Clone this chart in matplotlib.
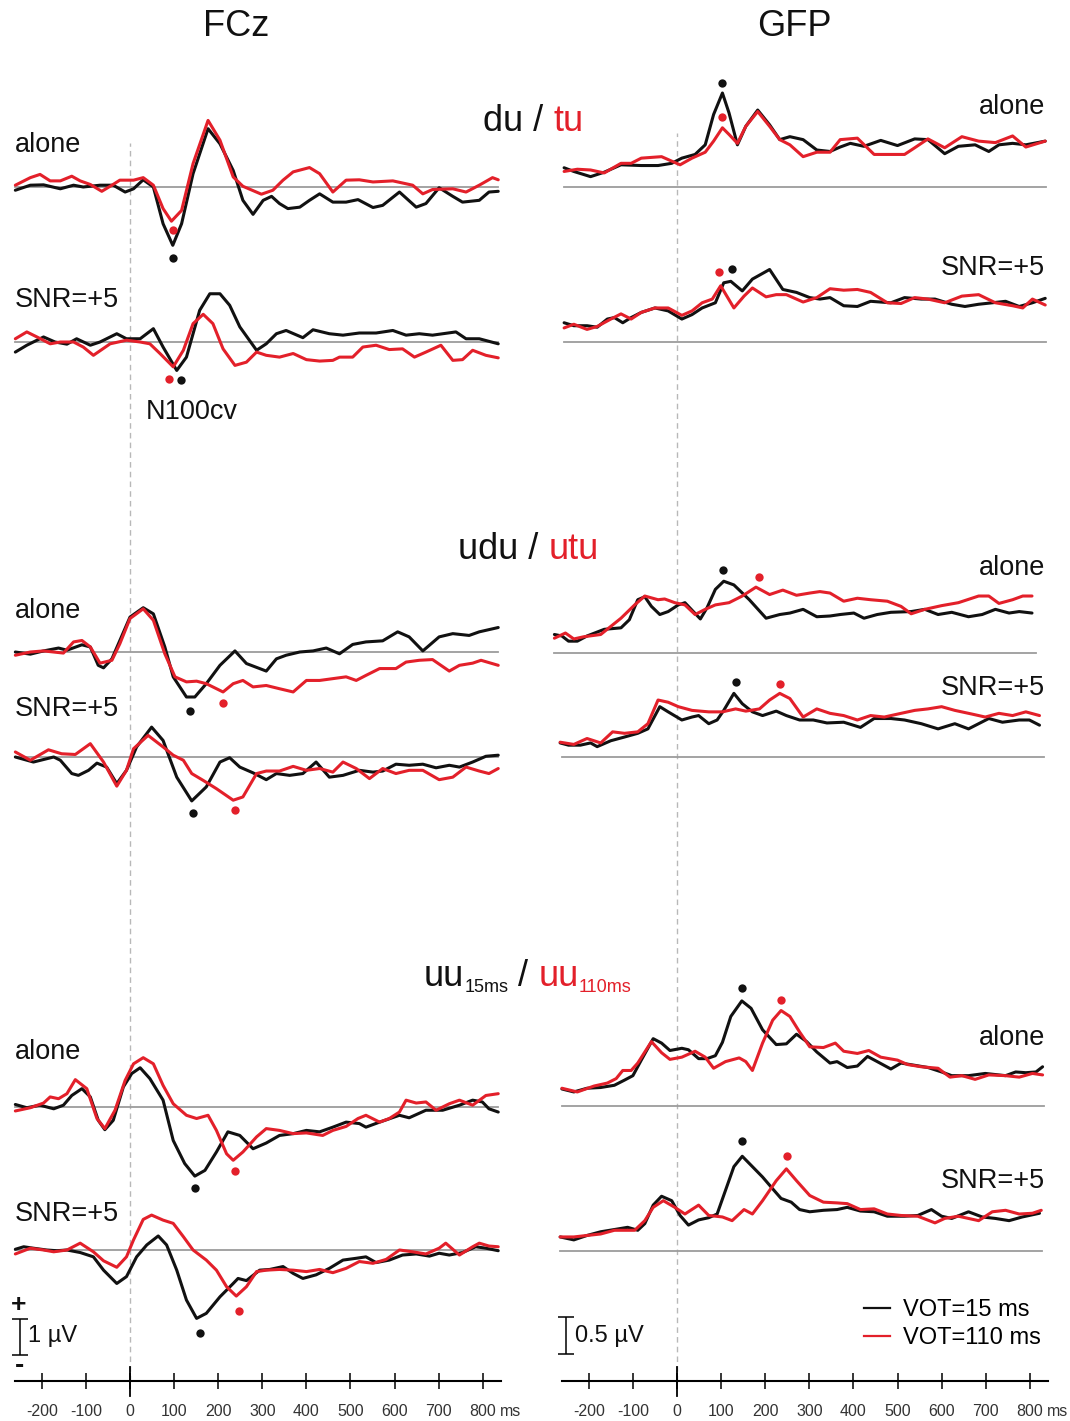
"""
FCz ERP and GFP waveforms for du/tu, udu/utu and uu15/uu110 (alone vs SNR=+5).
Values read off the published figure; black = VOT 15 ms, red = VOT 110 ms.
"""
import matplotlib.pyplot as plt
from matplotlib.lines import Line2D

plt.rcParams["font.family"] = ["Liberation Sans", "DejaVu Sans"]

# ---------------- FCz (µV), du / tu ----------------
FCZ_DU_ALONE_15_T = [-260, -226, -196, -158, -128, -106, -68, -38, -11, 8, 30, 53, 75, 97, 117, 143, 177, 204, 234, 256,
                     279, 302, 321, 339, 358, 385, 407, 430, 460, 490, 517, 551, 573, 611, 649, 671, 701, 732, 754, 792,
                     814, 835]
FCZ_DU_ALONE_15_V = [-0.09, 0.05, 0.06, -0.05, 0.05, 0.0, 0.05, 0.05, -0.14, -0.05, 0.20, 0.0, -1.02, -1.62, -1.02, 0.37,
                     1.62, 1.20, 0.46, -0.37, -0.76, -0.37, -0.26, -0.46, -0.60, -0.56, -0.37, -0.19, -0.42, -0.42,
                     -0.35, -0.57, -0.51, -0.14, -0.56, -0.46, -0.02, -0.26, -0.42, -0.37, -0.14, -0.12]
FCZ_DU_ALONE_110_T = [-260, -226, -204, -181, -158, -132, -113, -90, -64, -41, -23, 8, 30, 53, 75, 94, 117, 143, 177, 204,
                      234, 256, 298, 324, 347, 370, 407, 430, 460, 490, 520, 551, 596, 641, 664, 686, 732, 762, 792, 822,
                      835]
FCZ_DU_ALONE_110_V = [0.05, 0.26, 0.35, 0.17, 0.17, 0.30, 0.17, 0.07, -0.12, 0.05, 0.19, 0.19, 0.26, 0.05, -0.60, -0.95,
                      -0.65, 0.65, 1.85, 1.30, 0.28, 0.02, -0.20, -0.09, 0.19, 0.42, 0.54, 0.37, -0.14, 0.19, 0.20, 0.14,
                      0.17, 0.05, -0.19, -0.07, -0.05, -0.14, 0.05, 0.26, 0.20]
FCZ_DU_ALONE_PEAKS = [(97, -1.96), (97, -1.19)]

FCZ_DU_SNR_15_T = [-260, -234, -196, -170, -143, -121, -90, -68, -30, -8, 23, 53, 75, 106, 128, 158, 181, 204, 226, 249,
                   287, 309, 332, 354, 392, 415, 452, 483, 520, 558, 596, 626, 656, 686, 739, 762, 792, 835]
FCZ_DU_SNR_15_V = [-0.28, -0.09, 0.14, 0.0, -0.06, 0.09, -0.09, 0.0, 0.23, 0.09, 0.09, 0.37, -0.14, -0.79, -0.42, 0.88,
                   1.34, 1.34, 1.02, 0.42, -0.23, -0.05, 0.23, 0.32, 0.12, 0.34, 0.23, 0.19, 0.25, 0.25, 0.32, 0.19, 0.23,
                   0.19, 0.28, 0.09, 0.09, -0.05]
FCZ_DU_SNR_110_T = [-260, -234, -211, -181, -158, -128, -106, -83, -45, -8, 23, 45, 68, 98, 121, 143, 166, 188, 211, 238,
                    264, 287, 309, 339, 370, 400, 430, 460, 475, 505, 528, 558, 588, 618, 645, 671, 705, 732, 754, 777,
                    807, 835]
FCZ_DU_SNR_110_V = [0.09, 0.28, 0.14, -0.05, 0.0, 0.0, -0.14, -0.37, -0.05, 0.05, 0.0, -0.05, -0.32, -0.69, -0.23, 0.51,
                    0.77, 0.51, -0.19, -0.65, -0.56, -0.28, -0.37, -0.42, -0.32, -0.49, -0.53, -0.51, -0.42, -0.42,
                    -0.14, -0.09, -0.21, -0.19, -0.42, -0.28, -0.09, -0.51, -0.49, -0.23, -0.37, -0.44]
FCZ_DU_SNR_PEAKS = [(115, -1.06), (89, -1.03)]

# ---------------- FCz, udu / utu ----------------
FCZ_UDU_ALONE_15_T = [-260, -226, -196, -162, -143, -109, -90, -72, -60, -41, -23, 0, 30, 53, 79, 98, 128, 147, 173, 204,
                      238, 264, 309, 332, 354, 385, 415, 445, 475, 505, 535, 573, 607, 633, 664, 701, 732, 769, 792, 835]
FCZ_UDU_ALONE_15_V = [0.0, -0.06, 0.03, 0.11, 0.05, 0.20, 0.14, -0.37, -0.44, -0.19, 0.32, 0.97, 1.23, 1.06, 0.14, -0.69,
                      -1.25, -1.25, -0.88, -0.37, 0.03, -0.32, -0.53, -0.19, -0.09, 0.0, 0.03, 0.11, -0.05, 0.21, 0.28,
                      0.31, 0.56, 0.42, 0.03, 0.42, 0.51, 0.46, 0.56, 0.68]
FCZ_UDU_ALONE_110_T = [-260, -226, -196, -151, -128, -109, -90, -68, -41, -23, 0, 30, 53, 79, 102, 128, 151, 173, 211,
                       234, 256, 279, 309, 339, 370, 400, 430, 460, 490, 513, 535, 566, 603, 626, 656, 686, 724, 747, 777,
                       796, 835]
FCZ_UDU_ALONE_110_V = [-0.09, 0.0, 0.03, -0.03, 0.28, 0.32, 0.14, -0.31, -0.23, 0.23, 0.93, 1.20, 0.88, -0.05, -0.69,
                       -0.83, -0.81, -0.88, -1.11, -0.88, -0.79, -0.97, -0.93, -1.02, -1.11, -0.79, -0.79, -0.74, -0.69,
                       -0.79, -0.65, -0.46, -0.46, -0.28, -0.23, -0.21, -0.53, -0.37, -0.31, -0.23, -0.37]
FCZ_UDU_ALONE_PEAKS = [(136, -1.65), (211, -1.42)]

FCZ_UDU_SNR_15_T = [-260, -219, -173, -158, -132, -117, -94, -75, -53, -30, -8, 15, 49, 75, 106, 140, 173, 204, 226, 249,
                    279, 309, 332, 362, 392, 422, 452, 483, 520, 551, 573, 603, 633, 664, 694, 724, 747, 777, 807, 835]
FCZ_UDU_SNR_15_V = [0.0, -0.14, 0.0, -0.09, -0.46, -0.51, -0.37, -0.17, -0.28, -0.74, -0.37, 0.28, 0.83, 0.46, -0.56,
                    -1.22, -0.83, -0.14, -0.02, -0.28, -0.44, -0.63, -0.46, -0.51, -0.46, -0.14, -0.56, -0.51, -0.37,
                    -0.42, -0.39, -0.20, -0.23, -0.20, -0.30, -0.23, -0.28, -0.14, 0.02, 0.05]
FCZ_UDU_SNR_110_T = [-260, -226, -185, -155, -124, -90, -60, -30, -8, 8, 41, 75, 98, 121, 140, 166, 196, 234, 256, 287,
                     309, 339, 370, 400, 430, 460, 483, 513, 543, 573, 603, 633, 664, 701, 732, 762, 792, 814, 835]
FCZ_UDU_SNR_110_V = [0.14, -0.09, 0.20, 0.09, 0.07, 0.37, -0.14, -0.81, -0.37, 0.23, 0.60, 0.28, 0.05, -0.09, -0.46,
                     -0.65, -0.88, -1.20, -1.11, -0.46, -0.39, -0.39, -0.26, -0.37, -0.32, -0.42, -0.14, -0.32, -0.60,
                     -0.32, -0.46, -0.37, -0.37, -0.63, -0.56, -0.28, -0.39, -0.46, -0.32]
FCZ_UDU_SNR_PEAKS = [(143, -1.56), (239, -1.48)]

# ---------------- FCz, uu15 / uu110 ----------------
FCZ_UU_ALONE_15_T = [-260, -234, -204, -173, -151, -132, -109, -90, -72, -57, -38, -15, 4, 23, 45, 75, 98, 124, 147, 170,
                     196, 222, 249, 279, 309, 339, 370, 400, 430, 460, 490, 520, 535, 566, 611, 633, 671, 709, 747, 777,
                     799, 814, 835]
FCZ_UU_ALONE_15_V = [0.07, -0.02, 0.05, -0.05, 0.05, 0.32, 0.51, 0.28, -0.37, -0.63, -0.37, 0.56, 0.93, 1.09, 0.79, 0.19,
                     -0.93, -1.57, -1.92, -1.76, -1.25, -0.69, -0.79, -1.16, -1.00, -0.79, -0.74, -0.65, -0.69, -0.56,
                     -0.42, -0.46, -0.56, -0.42, -0.23, -0.30, -0.09, -0.09, 0.05, 0.19, 0.14, -0.05, -0.14]
FCZ_UU_ALONE_110_T = [-260, -226, -196, -181, -162, -143, -124, -98, -75, -57, -34, -11, 8, 30, 53, 75, 98, 128, 151,
                      177, 196, 219, 234, 256, 287, 309, 339, 370, 400, 437, 460, 490, 517, 535, 566, 588, 611, 626, 649,
                      671, 694, 724, 747, 777, 807, 835]
FCZ_UU_ALONE_110_V = [-0.11, -0.02, 0.11, 0.28, 0.23, 0.37, 0.76, 0.51, -0.32, -0.60, -0.09, 0.74, 1.20, 1.37, 1.20, 0.60,
                      0.09, -0.23, -0.32, -0.23, -0.65, -1.30, -1.48, -1.25, -0.83, -0.60, -0.65, -0.74, -0.72, -0.79,
                      -0.65, -0.54, -0.32, -0.23, -0.42, -0.32, -0.14, 0.19, 0.11, 0.14, -0.09, 0.09, 0.19, 0.05, 0.32,
                      0.37]
FCZ_UU_ALONE_PEAKS = [(147, -2.24), (238, -1.78)]

FCZ_UU_SNR_15_T = [-260, -241, -219, -189, -166, -143, -113, -83, -60, -30, -8, 15, 38, 64, 83, 106, 128, 151, 173, 204,
                   234, 245, 264, 294, 317, 347, 370, 392, 422, 452, 483, 513, 535, 558, 588, 618, 649, 679, 701, 724,
                   754, 784, 807, 835]
FCZ_UU_SNR_15_V = [0.02, 0.09, 0.05, 0.0, -0.02, 0.0, -0.07, -0.19, -0.56, -0.93, -0.74, -0.19, 0.14, 0.39, 0.14, -0.56,
                   -1.39, -1.90, -1.76, -1.30, -0.93, -0.79, -0.85, -0.56, -0.54, -0.46, -0.65, -0.79, -0.69, -0.51,
                   -0.28, -0.23, -0.19, -0.35, -0.28, -0.14, -0.11, -0.17, -0.09, -0.14, -0.07, 0.09, 0.05, -0.02]
FCZ_UU_SNR_110_T = [-260, -226, -196, -173, -143, -113, -83, -60, -30, -8, 8, 30, 49, 75, 98, 121, 143, 173, 196, 219,
                    241, 264, 287, 309, 339, 370, 400, 430, 460, 490, 520, 551, 581, 611, 641, 671, 701, 716, 747, 777,
                    792, 814, 835]
FCZ_UU_SNR_110_V = [-0.11, 0.05, 0.0, -0.05, 0.0, 0.19, -0.05, -0.30, -0.48, -0.19, 0.28, 0.85, 0.97, 0.83, 0.74, 0.37,
                    0.0, -0.28, -0.56, -1.02, -1.28, -1.02, -0.60, -0.56, -0.54, -0.56, -0.60, -0.54, -0.63, -0.51,
                    -0.32, -0.37, -0.26, 0.0, -0.05, -0.11, 0.05, 0.19, -0.14, 0.09, 0.19, 0.11, 0.09]
FCZ_UU_SNR_PEAKS = [(158, -2.30), (247, -1.69)]

# ---------------- GFP (µV), du / tu ----------------
GFP_DU_ALONE_15_T = [-256, -234, -196, -165, -127, -81, -43, -12, 11, 41, 64, 83, 103, 118, 137, 156, 183, 210, 233, 256,
                     286, 317, 347, 370, 393, 424, 462, 500, 539, 569, 607, 638, 676, 707, 730, 761, 791, 835]
GFP_DU_ALONE_15_V = [0.26, 0.21, 0.14, 0.20, 0.30, 0.29, 0.29, 0.32, 0.39, 0.44, 0.57, 0.98, 1.27, 1.00, 0.57, 0.82,
                     1.04, 0.84, 0.64, 0.68, 0.64, 0.50, 0.48, 0.54, 0.59, 0.55, 0.63, 0.56, 0.65, 0.64, 0.45, 0.55, 0.57,
                     0.48, 0.57, 0.59, 0.57, 0.62]
GFP_DU_ALONE_110_T = [-256, -226, -196, -165, -127, -104, -81, -35, -16, 7, 34, 64, 83, 103, 118, 137, 156, 183, 210, 233,
                      256, 286, 317, 347, 370, 409, 447, 477, 516, 539, 569, 607, 646, 684, 722, 761, 791, 835]
GFP_DU_ALONE_110_V = [0.21, 0.24, 0.23, 0.19, 0.32, 0.32, 0.39, 0.41, 0.36, 0.30, 0.39, 0.47, 0.62, 0.80, 0.71, 0.59,
                      0.82, 1.02, 0.82, 0.64, 0.57, 0.41, 0.47, 0.47, 0.64, 0.66, 0.44, 0.44, 0.44, 0.53, 0.65, 0.53,
                      0.68, 0.62, 0.60, 0.69, 0.54, 0.62]
GFP_DU_ALONE_PEAKS = [(103, 1.41), (103, 0.95)]

GFP_DU_SNR_15_T = [-256, -234, -204, -181, -158, -142, -123, -104, -81, -50, -20, 11, 34, 57, 87, 106, 122, 148, 171, 210,
                   240, 271, 301, 324, 347, 378, 409, 439, 485, 516, 554, 585, 623, 653, 684, 715, 745, 776, 806, 835]
GFP_DU_SNR_15_V = [0.26, 0.22, 0.22, 0.20, 0.31, 0.33, 0.26, 0.33, 0.40, 0.46, 0.42, 0.31, 0.37, 0.46, 0.53, 0.80, 0.82,
                   0.69, 0.85, 0.98, 0.71, 0.67, 0.60, 0.58, 0.60, 0.49, 0.48, 0.55, 0.53, 0.60, 0.58, 0.58, 0.51, 0.48,
                   0.51, 0.53, 0.55, 0.48, 0.53, 0.59]
GFP_DU_SNR_110_T = [-256, -234, -204, -181, -150, -127, -104, -81, -50, -20, 11, 34, 57, 80, 99, 129, 152, 171, 202, 225,
                    248, 286, 317, 347, 378, 409, 439, 477, 508, 539, 569, 607, 646, 684, 722, 761, 784, 806, 835]
GFP_DU_SNR_110_V = [0.19, 0.24, 0.17, 0.21, 0.31, 0.38, 0.31, 0.40, 0.46, 0.46, 0.36, 0.42, 0.53, 0.58, 0.76, 0.46, 0.62,
                    0.73, 0.61, 0.64, 0.64, 0.54, 0.60, 0.72, 0.70, 0.71, 0.67, 0.53, 0.52, 0.60, 0.58, 0.53, 0.62, 0.64,
                    0.53, 0.49, 0.46, 0.58, 0.50]
GFP_DU_SNR_PEAKS = [(125, 0.98), (95, 0.95)]

# ---------------- GFP, udu / utu ----------------
GFP_UDU_ALONE_15_T = [-278, -261, -246, -226, -204, -165, -127, -108, -89, -73, -58, -39, -20, 3, 18, 37, 53, 68, 87, 106,
                      129, 164, 202, 233, 256, 286, 317, 347, 370, 401, 424, 454, 485, 531, 562, 592, 623, 661, 692, 722,
                      753, 776, 805]
GFP_UDU_ALONE_15_V = [0.25, 0.23, 0.16, 0.16, 0.23, 0.32, 0.34, 0.45, 0.72, 0.76, 0.63, 0.52, 0.56, 0.65, 0.68, 0.56,
                      0.46, 0.61, 0.86, 0.97, 0.92, 0.72, 0.47, 0.52, 0.54, 0.59, 0.49, 0.50, 0.52, 0.54, 0.47, 0.52,
                      0.55, 0.56, 0.59, 0.52, 0.55, 0.49, 0.52, 0.59, 0.54, 0.56, 0.54]
GFP_UDU_ALONE_110_T = [-278, -253, -234, -211, -173, -127, -96, -73, -43, -28, -5, 18, 41, 64, 87, 118, 148, 179, 210,
                       240, 271, 301, 324, 347, 378, 409, 439, 477, 508, 531, 562, 600, 638, 684, 707, 730, 761, 784, 805]
GFP_UDU_ALONE_110_V = [0.20, 0.27, 0.19, 0.22, 0.25, 0.47, 0.65, 0.77, 0.72, 0.73, 0.68, 0.65, 0.52, 0.59, 0.65, 0.68,
                       0.77, 0.89, 0.79, 0.85, 0.78, 0.81, 0.83, 0.81, 0.70, 0.74, 0.72, 0.70, 0.63, 0.53, 0.59, 0.64,
                       0.68, 0.77, 0.77, 0.67, 0.72, 0.77, 0.77]
GFP_UDU_ALONE_PEAKS = [(105, 1.12), (185, 1.03)]

GFP_UDU_SNR_15_T = [-265, -246, -219, -196, -181, -150, -119, -89, -66, -39, -20, 11, 34, 49, 72, 91, 106, 129, 148, 171,
                    194, 225, 248, 278, 309, 340, 378, 416, 447, 485, 516, 554, 592, 630, 661, 684, 707, 738, 776, 799,
                    822]
GFP_UDU_SNR_15_V = [0.19, 0.16, 0.16, 0.19, 0.14, 0.22, 0.27, 0.32, 0.38, 0.68, 0.61, 0.50, 0.54, 0.56, 0.45, 0.50, 0.63,
                    0.86, 0.72, 0.61, 0.56, 0.62, 0.56, 0.50, 0.50, 0.46, 0.47, 0.40, 0.52, 0.52, 0.50, 0.45, 0.38, 0.45,
                    0.38, 0.45, 0.52, 0.47, 0.50, 0.50, 0.43]
GFP_UDU_SNR_110_T = [-265, -234, -204, -173, -146, -119, -89, -66, -43, -20, 3, 34, 72, 103, 133, 156, 187, 210, 233, 256,
                     286, 317, 347, 378, 409, 439, 470, 508, 539, 569, 600, 630, 669, 699, 730, 761, 791, 822]
GFP_UDU_SNR_110_V = [0.20, 0.17, 0.25, 0.19, 0.34, 0.32, 0.34, 0.45, 0.77, 0.74, 0.68, 0.63, 0.61, 0.61, 0.65, 0.62,
                     0.65, 0.77, 0.86, 0.79, 0.54, 0.65, 0.59, 0.56, 0.50, 0.56, 0.54, 0.59, 0.63, 0.65, 0.68, 0.63, 0.58,
                     0.54, 0.59, 0.56, 0.61, 0.56]
GFP_UDU_SNR_PEAKS = [(133, 1.02), (234, 0.98)]

# ---------------- GFP, uu15 / uu110 ----------------
GFP_UU_ALONE_15_T = [-261, -234, -204, -173, -142, -119, -100, -81, -54, -35, -16, 11, 26, 49, 68, 87, 103, 122, 147, 168,
                     194, 225, 248, 271, 294, 317, 347, 363, 386, 409, 432, 454, 485, 508, 539, 569, 600, 623, 661, 699,
                     745, 768, 791, 814, 829]
GFP_UU_ALONE_15_V = [0.23, 0.19, 0.24, 0.25, 0.28, 0.35, 0.41, 0.62, 0.91, 0.85, 0.75, 0.78, 0.76, 0.64, 0.64, 0.68,
                     0.86, 1.21, 1.42, 1.32, 1.03, 0.83, 0.84, 0.97, 0.87, 0.73, 0.58, 0.60, 0.52, 0.54, 0.67, 0.60, 0.50,
                     0.58, 0.55, 0.52, 0.46, 0.41, 0.41, 0.44, 0.41, 0.46, 0.45, 0.46, 0.53]
GFP_UU_ALONE_110_T = [-261, -226, -188, -158, -138, -123, -104, -89, -58, -35, -16, 11, 41, 64, 83, 110, 141, 156, 171,
                      194, 217, 236, 256, 278, 301, 332, 359, 378, 409, 435, 462, 500, 523, 554, 592, 619, 646, 676, 707,
                      745, 776, 806, 829]
GFP_UU_ALONE_110_V = [0.24, 0.19, 0.27, 0.31, 0.37, 0.48, 0.48, 0.58, 0.87, 0.72, 0.63, 0.66, 0.74, 0.66, 0.51, 0.60,
                      0.65, 0.60, 0.48, 0.85, 1.16, 1.29, 1.21, 1.00, 0.80, 0.79, 0.85, 0.74, 0.71, 0.75, 0.66, 0.62,
                      0.56, 0.53, 0.51, 0.39, 0.41, 0.36, 0.42, 0.41, 0.39, 0.44, 0.42]
GFP_UU_ALONE_PEAKS = [(147, 1.60), (236, 1.43)]

GFP_UU_SNR_15_T = [-265, -234, -204, -173, -142, -112, -89, -73, -54, -35, -12, 7, 26, 49, 72, 91, 110, 129, 148, 171,
                   194, 217, 236, 259, 278, 301, 332, 363, 386, 416, 447, 477, 516, 546, 577, 600, 623, 661, 692, 722,
                   753, 783, 822]
GFP_UU_SNR_15_V = [0.19, 0.15, 0.21, 0.26, 0.29, 0.32, 0.28, 0.37, 0.62, 0.74, 0.68, 0.48, 0.35, 0.42, 0.45, 0.50, 0.82,
                   1.14, 1.28, 1.14, 1.00, 0.84, 0.71, 0.66, 0.56, 0.53, 0.55, 0.56, 0.59, 0.54, 0.53, 0.47, 0.47, 0.48,
                   0.56, 0.47, 0.44, 0.53, 0.46, 0.44, 0.41, 0.46, 0.51]
GFP_UU_SNR_110_T = [-265, -234, -204, -173, -142, -96, -73, -54, -31, -5, 18, 49, 72, 103, 125, 152, 171, 194, 225, 248,
                    271, 301, 332, 363, 386, 416, 447, 477, 508, 546, 585, 607, 638, 684, 715, 745, 776, 806, 826]
GFP_UU_SNR_110_V = [0.19, 0.19, 0.21, 0.23, 0.28, 0.28, 0.41, 0.59, 0.68, 0.59, 0.50, 0.62, 0.48, 0.46, 0.41, 0.56, 0.50,
                    0.68, 0.95, 1.11, 0.95, 0.75, 0.66, 0.65, 0.64, 0.56, 0.57, 0.50, 0.48, 0.47, 0.38, 0.44, 0.47, 0.41,
                    0.53, 0.55, 0.50, 0.51, 0.55]
GFP_UU_SNR_PEAKS = [(148, 1.48), (250, 1.29)]

TIME_TICKS = [-200, -100, 0, 100, 200, 300, 400, 500, 600, 700, 800]
TIME_TICK_LABELS = [str(t) for t in TIME_TICKS]
LEGEND_LABELS = ["VOT=15 ms", "VOT=110 ms"]

# ---------------- layout (pixels of the 1070x1421 canvas) ----------------
W, H = 1070, 1421
PX_PER_MS = 0.441
AXIS_Y = 1381
BLACK = "#111111"
RED = "#e3202a"
GRAY = "#9c9c9c"

fig = plt.figure(figsize=(W / 100, H / 100), dpi=100)


def fx(x):
    return x / W


def fy(y):
    return 1 - y / H


def make_column(x0, x1, zero_px, px_per_uv):
    ax = fig.add_axes([fx(x0), 0, (x1 - x0) / W, 1])
    ax.set_xlim((x0 - zero_px) / PX_PER_MS, (x1 - zero_px) / PX_PER_MS)
    ax.set_ylim(0, H / px_per_uv)
    ax.patch.set_visible(False)
    for side in ["left", "right", "top"]:
        ax.spines[side].set_visible(False)
    ax.set_yticks([])
    axis_uv = (H - AXIS_Y) / px_per_uv
    ax.spines["bottom"].set_position(("data", axis_uv))
    ax.spines["bottom"].set_bounds(-260, 841)
    ax.spines["bottom"].set_linewidth(1.5)
    ax.set_xticks(TIME_TICKS)
    ax.set_xticklabels(TIME_TICK_LABELS)
    ax.tick_params(axis="x", direction="inout", length=11.5, width=1.1, pad=10.5,
                   labelsize=11.5, labelcolor="#333333")
    # longer tick at stimulus onset
    ax.plot([0, 0], [(H - 1396) / px_per_uv, (H - 1367) / px_per_uv], color="black", lw=1.3,
            clip_on=False)
    return ax


def draw_panel(ax, px_per_uv, base_px, t_span, t15, v15, t110, v110, peaks):
    base = (H - base_px) / px_per_uv
    ax.plot(t_span, [base, base], color=GRAY, lw=1.3, zorder=1)
    ax.plot(t15, [base + v for v in v15], color=BLACK, lw=2.2, zorder=3,
            solid_joinstyle="round", solid_capstyle="round")
    ax.plot(t110, [base + v for v in v110], color=RED, lw=2.2, zorder=3,
            solid_joinstyle="round", solid_capstyle="round")
    for (t, v), color in zip(peaks, [BLACK, RED]):
        ax.plot(t, base + v, "o", ms=6, color=color, mec="none", zorder=4)


def chained_title(left, base, pieces):
    """pieces: (text, fontsize, color, baseline drop in px); each starts where the previous ends."""
    prev = None
    for text, size, color, drop in pieces:
        y = fy(base + drop)
        if prev is None:
            prev = fig.text(fx(left), y, text, ha="left", va="baseline", fontsize=size, color=color)
        else:
            prev = plt.annotate(text, xy=(1, y), xycoords=(prev, "figure fraction"), ha="left",
                                va="baseline", fontsize=size, color=color, annotation_clip=False)


FCZ_PX_PER_UV = 36
GFP_PX_PER_UV = 74

ax_fcz = make_column(0, 540, 130, FCZ_PX_PER_UV)
ax_gfp = make_column(540, 1070, 677, GFP_PX_PER_UV)

fcz_panels = [
    (187, (-260, 835), FCZ_DU_ALONE_15_T, FCZ_DU_ALONE_15_V, FCZ_DU_ALONE_110_T, FCZ_DU_ALONE_110_V, FCZ_DU_ALONE_PEAKS),
    (342, (-260, 835), FCZ_DU_SNR_15_T, FCZ_DU_SNR_15_V, FCZ_DU_SNR_110_T, FCZ_DU_SNR_110_V, FCZ_DU_SNR_PEAKS),
    (652, (-260, 835), FCZ_UDU_ALONE_15_T, FCZ_UDU_ALONE_15_V, FCZ_UDU_ALONE_110_T, FCZ_UDU_ALONE_110_V,
     FCZ_UDU_ALONE_PEAKS),
    (757, (-260, 835), FCZ_UDU_SNR_15_T, FCZ_UDU_SNR_15_V, FCZ_UDU_SNR_110_T, FCZ_UDU_SNR_110_V, FCZ_UDU_SNR_PEAKS),
    (1107, (-260, 835), FCZ_UU_ALONE_15_T, FCZ_UU_ALONE_15_V, FCZ_UU_ALONE_110_T, FCZ_UU_ALONE_110_V,
     FCZ_UU_ALONE_PEAKS),
    (1250, (-260, 835), FCZ_UU_SNR_15_T, FCZ_UU_SNR_15_V, FCZ_UU_SNR_110_T, FCZ_UU_SNR_110_V, FCZ_UU_SNR_PEAKS),
]
gfp_panels = [
    (187, (-256, 837), GFP_DU_ALONE_15_T, GFP_DU_ALONE_15_V, GFP_DU_ALONE_110_T, GFP_DU_ALONE_110_V, GFP_DU_ALONE_PEAKS),
    (342, (-256, 837), GFP_DU_SNR_15_T, GFP_DU_SNR_15_V, GFP_DU_SNR_110_T, GFP_DU_SNR_110_V, GFP_DU_SNR_PEAKS),
    (653, (-278, 814), GFP_UDU_ALONE_15_T, GFP_UDU_ALONE_15_V, GFP_UDU_ALONE_110_T, GFP_UDU_ALONE_110_V,
     GFP_UDU_ALONE_PEAKS),
    (757, (-261, 832), GFP_UDU_SNR_15_T, GFP_UDU_SNR_15_V, GFP_UDU_SNR_110_T, GFP_UDU_SNR_110_V, GFP_UDU_SNR_PEAKS),
    (1106, (-261, 832), GFP_UU_ALONE_15_T, GFP_UU_ALONE_15_V, GFP_UU_ALONE_110_T, GFP_UU_ALONE_110_V,
     GFP_UU_ALONE_PEAKS),
    (1251, (-265, 827), GFP_UU_SNR_15_T, GFP_UU_SNR_15_V, GFP_UU_SNR_110_T, GFP_UU_SNR_110_V, GFP_UU_SNR_PEAKS),
]

for panel in fcz_panels:
    draw_panel(ax_fcz, FCZ_PX_PER_UV, *panel)
for panel in gfp_panels:
    draw_panel(ax_gfp, GFP_PX_PER_UV, *panel)

# stimulus onset (dashed)
ax_fcz.plot([0, 0], [(H - AXIS_Y) / FCZ_PX_PER_UV, (H - 143) / FCZ_PX_PER_UV],
            color="#b8b8b8", lw=1.0, ls=(0, (4, 3)), zorder=0.5)
ax_gfp.plot([0, 0], [(H - AXIS_Y) / GFP_PX_PER_UV, (H - 133) / GFP_PX_PER_UV],
            color="#b8b8b8", lw=1.0, ls=(0, (4, 3)), zorder=0.5)

# column titles
fig.text(fx(236), fy(27), "FCz", ha="center", va="center", fontsize=26, color=BLACK)
fig.text(fx(794), fy(27), "GFP", ha="center", va="center", fontsize=26, color=BLACK)

# condition titles (black / red)
chained_title(483, 131, [("du / ", 26, BLACK, 0), ("tu", 26, RED, 0)])
chained_title(458, 559, [("udu / ", 26, BLACK, 0), ("utu", 26, RED, 0)])
chained_title(424, 986, [("uu", 26, BLACK, 0), ("15ms", 13, BLACK, 6), (" / ", 26, BLACK, 0),
                         ("uu", 26, RED, 0), ("110ms", 13, RED, 6)])

# row labels
LABEL_SIZE = 19.5
for y, text in [(145, "alone"), (300, "SNR=+5"), (611, "alone"), (709, "SNR=+5"),
                (1052, "alone"), (1214, "SNR=+5")]:
    fig.text(fx(15), fy(y), text, ha="left", va="center", fontsize=LABEL_SIZE, color=BLACK)
for y, text in [(107, "alone"), (268, "SNR=+5"), (568, "alone"), (688, "SNR=+5"),
                (1038, "alone"), (1181, "SNR=+5")]:
    fig.text(fx(1045), fy(y), text, ha="right", va="center", fontsize=LABEL_SIZE, color=BLACK)
fig.text(fx(146), fy(412), "N100cv", ha="left", va="center", fontsize=LABEL_SIZE, color=BLACK)

# "ms" after the last tick label
fig.text(fx(500), fy(1412), "ms", ha="left", va="center", fontsize=11.5, color="#333333")
fig.text(fx(1047), fy(1412), "ms", ha="left", va="center", fontsize=11.5, color="#333333")

# amplitude scale bars
ax_fcz.errorbar([(20 - 130) / PX_PER_MS], [(H - 1337) / FCZ_PX_PER_UV], yerr=0.5, fmt="none",
                ecolor="black", elinewidth=1.1, capsize=6, capthick=1.1)
fig.text(fx(28), fy(1336), "1 µV", ha="left", va="center", fontsize=17, color=BLACK)
fig.text(fx(19), fy(1305), "+", ha="center", va="center", fontsize=19, fontweight="bold", color=BLACK)
fig.text(fx(19), fy(1366), "-", ha="center", va="center", fontsize=20, fontweight="bold", color=BLACK)

ax_gfp.errorbar([(566 - 677) / PX_PER_MS], [(H - 1335.5) / GFP_PX_PER_UV], yerr=0.25, fmt="none",
                ecolor="black", elinewidth=1.1, capsize=6, capthick=1.1)
fig.text(fx(575), fy(1336), "0.5 µV", ha="left", va="center", fontsize=17, color=BLACK)

handles = [Line2D([], [], color=BLACK, lw=1.6), Line2D([], [], color=RED, lw=1.6)]
fig.legend(handles, LEGEND_LABELS, loc="upper left", bbox_to_anchor=(fx(864), fy(1299)), frameon=False,
           fontsize=17, handlelength=1.1, handletextpad=0.55, labelspacing=0.25, borderpad=0, borderaxespad=0)

fig.savefig("out.png", dpi=100)
